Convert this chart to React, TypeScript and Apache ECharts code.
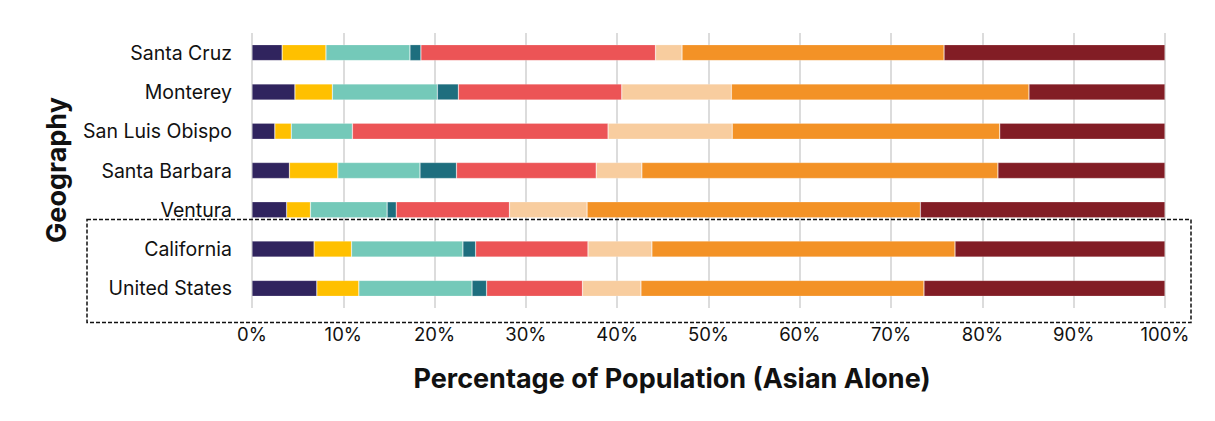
import React, { useEffect, useRef } from "react";
import * as echarts from "echarts";

// Geographies, top to bottom
const geographies = [
  "Santa Cruz",
  "Monterey",
  "San Luis Obispo",
  "Santa Barbara",
  "Ventura",
  "California",
  "United States",
];

// Share of the Asian-alone population by group (%), one array per group
const group1 = [3.3, 4.7, 2.5, 4.1, 3.8, 6.8, 7.1];
const group2 = [4.8, 4.1, 1.8, 5.3, 2.6, 4.1, 4.6];
const group3 = [9.2, 11.5, 6.7, 9.0, 8.4, 12.2, 12.4];
const group4 = [1.2, 2.3, 0.0, 4.0, 1.0, 1.4, 1.6];
const group5 = [25.7, 17.9, 28.0, 15.3, 12.4, 12.3, 10.5];
const group6 = [2.9, 12.0, 13.6, 5.0, 8.5, 7.0, 6.4];
const group7 = [28.7, 32.6, 29.3, 39.0, 36.5, 33.2, 31.0];
const group8 = [24.2, 14.9, 18.1, 18.3, 26.8, 23.0, 26.4];

const groups = [group1, group2, group3, group4, group5, group6, group7, group8];
const groupNames = ["G1", "G2", "G3", "G4", "G5", "G6", "G7", "G8"];
const colors = [
  "#30245e",
  "#ffc000",
  "#74c9b9",
  "#1e6e7e",
  "#ec5456",
  "#f8cd9f",
  "#f39226",
  "#821d25",
];

const xTicks = [0, 10, 20, 30, 40, 50, 60, 70, 80, 90, 100];

const FONT = "Inter, 'Noto Sans', sans-serif";

export default function App() {
  const ref = useRef<HTMLDivElement>(null);

  useEffect(() => {
    if (!ref.current) return;
    const chart = echarts.init(ref.current, null, { renderer: "svg" });

    chart.setOption({
      animation: false,
      backgroundColor: "#ffffff",
      grid: { left: 252, right: 50, top: 33, bottom: 113, containLabel: false },
      xAxis: {
        type: "value",
        min: xTicks[0],
        max: xTicks[xTicks.length - 1],
        interval: 10,
        axisLine: { show: false },
        axisTick: { show: false },
        splitLine: { show: true, lineStyle: { color: "#dcdcdc", width: 2 } },
        axisLabel: {
          formatter: "{value}%",
          color: "#111111",
          fontSize: 18.5,
          fontFamily: FONT,
          margin: 16,
        },
      },
      yAxis: {
        type: "category",
        data: geographies,
        inverse: true,
        axisLine: { show: false },
        axisTick: { show: false },
        splitLine: { show: false },
        axisLabel: {
          color: "#111111",
          fontSize: 19.5,
          fontFamily: FONT,
          margin: 20,
        },
      },
      series: groups.map((values, i) => ({
        type: "bar",
        name: groupNames[i],
        stack: "total",
        data: values,
        barWidth: 16,
        itemStyle: {
          color: colors[i],
          borderColor: "rgba(255,255,255,0.35)",
          borderWidth: 0.6,
        },
      })),
      graphic: [
        {
          type: "rect",
          silent: true,
          shape: { x: 2, y: 4, width: 1240, height: 440 },
          style: { fill: "none", stroke: "#e4e4e4", lineWidth: 2 },
          z: -10,
        },
        {
          type: "rect",
          silent: true,
          shape: { x: 87, y: 219.5, width: 1104, height: 103 },
          style: {
            fill: "none",
            stroke: "#111111",
            lineWidth: 1.5,
            lineDash: [4, 2],
          },
          z: 10,
        },
        {
          type: "text",
          silent: true,
          x: 672,
          y: 378,
          style: {
            text: "Percentage of Population (Asian Alone)",
            fontSize: 27,
            fontWeight: "bold",
            fontFamily: FONT,
            fill: "#111111",
            align: "center",
            verticalAlign: "middle",
          },
        },
        {
          type: "text",
          silent: true,
          x: 56,
          y: 170,
          rotation: Math.PI / 2,
          style: {
            text: "Geography",
            fontSize: 27,
            fontWeight: "bold",
            fontFamily: FONT,
            fill: "#111111",
            align: "center",
            verticalAlign: "middle",
          },
        },
      ],
    });

    return () => chart.dispose();
  }, []);

  return <div ref={ref} style={{ width: 1215, height: 421, margin: -8 }} />;
}
